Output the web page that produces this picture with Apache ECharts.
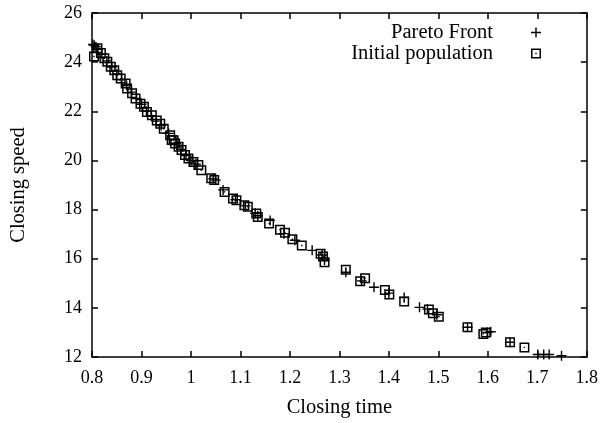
<!DOCTYPE html>
<html>
<head>
<meta charset="utf-8">
<script src="https://cdn.jsdelivr.net/npm/echarts@6/dist/echarts.min.js"></script>
<style>
  html, body { margin: 0; padding: 0; background: #fff; }
  #chart { width: 601px; height: 423px; }
</style>
</head>
<body>
<div id="chart"></div>
<script>
// Pareto front (closing time, closing speed)
var paretoTime = [0.802, 0.805, 0.808, 0.812, 0.82, 0.83, 0.84, 0.85, 0.86, 0.87, 0.88, 0.89, 0.90, 0.91, 0.92, 0.93, 0.94, 0.955, 0.97, 0.98, 0.99, 1.0, 1.01, 1.045, 1.05, 1.065, 1.09, 1.11, 1.13, 1.135, 1.16, 1.188, 1.21, 1.245, 1.265, 1.27, 1.313, 1.345, 1.37, 1.40, 1.431, 1.462, 1.478, 1.497, 1.559, 1.599, 1.606, 1.645, 1.701, 1.713, 1.724, 1.749];
var paretoSpeed = [24.72, 24.68, 24.62, 24.52, 24.32, 24.05, 23.80, 23.52, 23.28, 23.05, 22.78, 22.52, 22.28, 22.0, 21.82, 21.6, 21.42, 21.1, 20.7, 20.45, 20.2, 20.0, 19.85, 19.25, 19.2, 18.8, 18.4, 18.15, 17.85, 17.75, 17.56, 17.02, 16.75, 16.34, 16.15, 15.95, 15.45, 15.1, 14.84, 14.6, 14.42, 14.02, 13.95, 13.72, 13.21, 13.0, 13.03, 12.6, 12.1, 12.1, 12.1, 12.05];

// initial population
var initTime = [0.811, 0.804, 0.818, 0.825, 0.831, 0.838, 0.845, 0.851, 0.858, 0.868, 0.871, 0.881, 0.888, 0.898, 0.905, 0.911, 0.921, 0.931, 0.938, 0.945, 0.958, 0.965, 0.961, 0.968, 0.975, 0.981, 0.988, 0.995, 1.005, 1.015, 1.021, 1.041, 1.047, 1.068, 1.085, 1.092, 1.108, 1.115, 1.132, 1.135, 1.158, 1.180, 1.190, 1.205, 1.224, 1.262, 1.267, 1.270, 1.313, 1.342, 1.352, 1.392, 1.401, 1.431, 1.481, 1.489, 1.501, 1.559, 1.591, 1.596, 1.645, 1.674];
var initSpeed = [24.57, 24.23, 24.37, 24.16, 24.02, 23.81, 23.67, 23.47, 23.33, 23.13, 22.93, 22.73, 22.52, 22.31, 22.18, 21.97, 21.84, 21.63, 21.49, 21.29, 21.02, 20.82, 20.83, 20.69, 20.56, 20.42, 20.22, 20.08, 19.94, 19.81, 19.60, 19.27, 19.20, 18.72, 18.45, 18.38, 18.18, 18.11, 17.84, 17.70, 17.43, 17.18, 17.06, 16.79, 16.54, 16.20, 16.09, 15.86, 15.55, 15.08, 15.21, 14.73, 14.54, 14.26, 13.93, 13.78, 13.64, 13.21, 12.94, 13.00, 12.60, 12.39];

function pairs(xs, ys) {
  var out = [];
  xs.forEach(function (x, i) { out.push([x, ys[i]]); });
  return out;
}

var font = '"Liberation Serif", "DejaVu Serif", serif';
var plusPath = 'path://M4.3 0 L5.7 0 L5.7 4.3 L10 4.3 L10 5.7 L5.7 5.7 L5.7 10 L4.3 10 L4.3 5.7 L0 5.7 L0 4.3 L4.3 4.3 Z';
var boxPath = 'path://M0 0 L10 0 L10 10 L0 10 Z M1.5 1.5 L1.5 8.5 L8.5 8.5 L8.5 1.5 Z M4.3 4.3 L5.7 4.3 L5.7 5.7 L4.3 5.7 Z';

var lineStyle = { color: '#000', width: 1.5 };

var myChart = echarts.init(document.getElementById('chart'));
myChart.setOption({
  animation: false,
  backgroundColor: '#fff',
  textStyle: { fontFamily: font, color: '#000' },
  grid: { left: 90, right: 13, top: 13, bottom: 66 },
  legend: {
    orient: 'vertical',
    right: 55,
    top: 17,
    align: 'right',
    itemWidth: 10,
    itemHeight: 10,
    itemGap: 0,
    textStyle: { fontFamily: font, fontSize: 20.5, lineHeight: 20, color: '#000', width: 160, align: 'right', padding: [0, 33, 0, 0] },
    data: [
      { name: 'Pareto Front', icon: plusPath },
      { name: 'Initial population', icon: boxPath }
    ]
  },
  xAxis: [
    {
      type: 'value', min: 0.8, max: 1.8, interval: 0.1,
      name: 'Closing time', nameLocation: 'middle', nameGap: 40,
      nameTextStyle: { fontFamily: font, fontSize: 20.5, color: '#000' },
      axisLine: { lineStyle: lineStyle },
      axisTick: { inside: true, length: 6, lineStyle: lineStyle },
      axisLabel: { fontFamily: font, fontSize: 18, color: '#000', margin: 12 },
      splitLine: { show: false }
    },
    {
      type: 'value', position: 'top', min: 0.8, max: 1.8, interval: 0.1,
      axisLine: { lineStyle: lineStyle },
      axisTick: { inside: true, length: 6, lineStyle: lineStyle },
      axisLabel: { show: false },
      splitLine: { show: false }
    }
  ],
  yAxis: [
    {
      type: 'value', min: 12, max: 26, interval: 2,
      name: 'Closing speed', nameLocation: 'middle', nameGap: 63,
      nameTextStyle: { fontFamily: font, fontSize: 20.5, color: '#000' },
      axisLine: { lineStyle: lineStyle },
      axisTick: { inside: true, length: 6, lineStyle: lineStyle },
      axisLabel: { fontFamily: font, fontSize: 18, color: '#000', margin: 10 },
      splitLine: { show: false }
    },
    {
      type: 'value', position: 'right', min: 12, max: 26, interval: 2,
      axisLine: { lineStyle: lineStyle },
      axisTick: { inside: true, length: 6, lineStyle: lineStyle },
      axisLabel: { show: false },
      splitLine: { show: false }
    }
  ],
  series: [
    {
      name: 'Pareto Front',
      type: 'scatter',
      symbol: plusPath,
      symbolSize: 10,
      itemStyle: { color: '#000', opacity: 1 },
      data: pairs(paretoTime, paretoSpeed)
    },
    {
      name: 'Initial population',
      type: 'scatter',
      symbol: boxPath,
      symbolSize: 10,
      itemStyle: { color: '#000', opacity: 1 },
      data: pairs(initTime, initSpeed)
    }
  ]
});
</script>
</body>
</html>
